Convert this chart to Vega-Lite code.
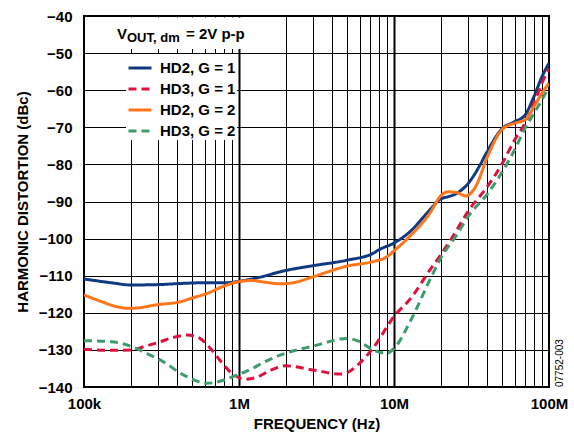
{
  "$schema": "https://vega.github.io/schema/vega-lite/v6.json",
  "width": 465,
  "height": 371,
  "autosize": {"type": "none"},
  "padding": {"left": 84, "top": 16, "right": 25, "bottom": 46},
  "background": "white",
  "config": {
    "font": "Liberation Sans",
    "view": {"stroke": "black", "strokeWidth": 2},
    "legend": {
      "orient": "none",
      "legendX": 42,
      "legendY": 38,
      "fillColor": "white",
      "padding": 1,
      "symbolType": "stroke",
      "symbolStrokeWidth": 3,
      "symbolSize": 529,
      "labelFont": "Liberation Sans",
      "labelFontSize": 15,
      "labelFontWeight": "bold",
      "labelColor": "black",
      "labelOffset": 7,
      "rowPadding": -2,
      "title": null
    }
  },
  "datasets": {
    "curves": [
      {"series": "HD2, G = 1", "freq": 100000, "dbc": -110.9},
      {"series": "HD2, G = 1", "freq": 150000, "dbc": -111.9},
      {"series": "HD2, G = 1", "freq": 200000, "dbc": -112.5},
      {"series": "HD2, G = 1", "freq": 300000, "dbc": -112.4},
      {"series": "HD2, G = 1", "freq": 420000, "dbc": -112.1},
      {"series": "HD2, G = 1", "freq": 600000, "dbc": -111.9},
      {"series": "HD2, G = 1", "freq": 830000, "dbc": -111.9},
      {"series": "HD2, G = 1", "freq": 1000000, "dbc": -111.5},
      {"series": "HD2, G = 1", "freq": 1300000, "dbc": -110.6},
      {"series": "HD2, G = 1", "freq": 2000000, "dbc": -108.6},
      {"series": "HD2, G = 1", "freq": 3000000, "dbc": -107.3},
      {"series": "HD2, G = 1", "freq": 5000000, "dbc": -105.8},
      {"series": "HD2, G = 1", "freq": 7300000, "dbc": -104.0},
      {"series": "HD2, G = 1", "freq": 8000000, "dbc": -103.0},
      {"series": "HD2, G = 1", "freq": 10000000, "dbc": -101.2},
      {"series": "HD2, G = 1", "freq": 12700000, "dbc": -98.1},
      {"series": "HD2, G = 1", "freq": 17000000, "dbc": -92.3},
      {"series": "HD2, G = 1", "freq": 20000000, "dbc": -89.3},
      {"series": "HD2, G = 1", "freq": 22400000, "dbc": -88.7},
      {"series": "HD2, G = 1", "freq": 25400000, "dbc": -87.8},
      {"series": "HD2, G = 1", "freq": 30000000, "dbc": -85.2},
      {"series": "HD2, G = 1", "freq": 35000000, "dbc": -81.0},
      {"series": "HD2, G = 1", "freq": 40000000, "dbc": -76.5},
      {"series": "HD2, G = 1", "freq": 50000000, "dbc": -70.3},
      {"series": "HD2, G = 1", "freq": 60000000, "dbc": -68.5},
      {"series": "HD2, G = 1", "freq": 70000000, "dbc": -66.7},
      {"series": "HD2, G = 1", "freq": 80000000, "dbc": -61.7},
      {"series": "HD2, G = 1", "freq": 90000000, "dbc": -56.4},
      {"series": "HD2, G = 1", "freq": 100000000, "dbc": -52.7},

      {"series": "HD3, G = 1", "freq": 100000, "dbc": -129.8},
      {"series": "HD3, G = 1", "freq": 150000, "dbc": -130.1},
      {"series": "HD3, G = 1", "freq": 200000, "dbc": -130.0},
      {"series": "HD3, G = 1", "freq": 250000, "dbc": -129.0},
      {"series": "HD3, G = 1", "freq": 310000, "dbc": -127.8},
      {"series": "HD3, G = 1", "freq": 380000, "dbc": -126.6},
      {"series": "HD3, G = 1", "freq": 460000, "dbc": -126.0},
      {"series": "HD3, G = 1", "freq": 560000, "dbc": -126.9},
      {"series": "HD3, G = 1", "freq": 650000, "dbc": -129.5},
      {"series": "HD3, G = 1", "freq": 750000, "dbc": -132.7},
      {"series": "HD3, G = 1", "freq": 900000, "dbc": -136.3},
      {"series": "HD3, G = 1", "freq": 1100000, "dbc": -137.9},
      {"series": "HD3, G = 1", "freq": 1300000, "dbc": -137.4},
      {"series": "HD3, G = 1", "freq": 1600000, "dbc": -135.5},
      {"series": "HD3, G = 1", "freq": 2000000, "dbc": -134.3},
      {"series": "HD3, G = 1", "freq": 3000000, "dbc": -135.4},
      {"series": "HD3, G = 1", "freq": 4500000, "dbc": -136.5},
      {"series": "HD3, G = 1", "freq": 5000000, "dbc": -136.1},
      {"series": "HD3, G = 1", "freq": 6000000, "dbc": -133.6},
      {"series": "HD3, G = 1", "freq": 7300000, "dbc": -129.6},
      {"series": "HD3, G = 1", "freq": 10000000, "dbc": -121.0},
      {"series": "HD3, G = 1", "freq": 13000000, "dbc": -115.8},
      {"series": "HD3, G = 1", "freq": 17000000, "dbc": -108.5},
      {"series": "HD3, G = 1", "freq": 20000000, "dbc": -104.4},
      {"series": "HD3, G = 1", "freq": 25400000, "dbc": -97.7},
      {"series": "HD3, G = 1", "freq": 30000000, "dbc": -92.7},
      {"series": "HD3, G = 1", "freq": 40000000, "dbc": -86.0},
      {"series": "HD3, G = 1", "freq": 50000000, "dbc": -79.7},
      {"series": "HD3, G = 1", "freq": 60000000, "dbc": -73.4},
      {"series": "HD3, G = 1", "freq": 70000000, "dbc": -68.9},
      {"series": "HD3, G = 1", "freq": 80000000, "dbc": -63.5},
      {"series": "HD3, G = 1", "freq": 90000000, "dbc": -58.1},
      {"series": "HD3, G = 1", "freq": 100000000, "dbc": -54.1},

      {"series": "HD2, G = 2", "freq": 100000, "dbc": -115.2},
      {"series": "HD2, G = 2", "freq": 130000, "dbc": -117.0},
      {"series": "HD2, G = 2", "freq": 160000, "dbc": -118.3},
      {"series": "HD2, G = 2", "freq": 200000, "dbc": -118.8},
      {"series": "HD2, G = 2", "freq": 300000, "dbc": -117.8},
      {"series": "HD2, G = 2", "freq": 420000, "dbc": -117.0},
      {"series": "HD2, G = 2", "freq": 500000, "dbc": -116.0},
      {"series": "HD2, G = 2", "freq": 620000, "dbc": -114.8},
      {"series": "HD2, G = 2", "freq": 800000, "dbc": -112.8},
      {"series": "HD2, G = 2", "freq": 1000000, "dbc": -111.6},
      {"series": "HD2, G = 2", "freq": 1200000, "dbc": -111.3},
      {"series": "HD2, G = 2", "freq": 1500000, "dbc": -111.8},
      {"series": "HD2, G = 2", "freq": 1850000, "dbc": -112.2},
      {"series": "HD2, G = 2", "freq": 2300000, "dbc": -111.8},
      {"series": "HD2, G = 2", "freq": 3000000, "dbc": -110.3},
      {"series": "HD2, G = 2", "freq": 5000000, "dbc": -107.4},
      {"series": "HD2, G = 2", "freq": 7300000, "dbc": -106.2},
      {"series": "HD2, G = 2", "freq": 9000000, "dbc": -104.9},
      {"series": "HD2, G = 2", "freq": 10000000, "dbc": -103.3},
      {"series": "HD2, G = 2", "freq": 12700000, "dbc": -99.3},
      {"series": "HD2, G = 2", "freq": 17000000, "dbc": -93.2},
      {"series": "HD2, G = 2", "freq": 20000000, "dbc": -88.5},
      {"series": "HD2, G = 2", "freq": 22400000, "dbc": -87.4},
      {"series": "HD2, G = 2", "freq": 25400000, "dbc": -87.6},
      {"series": "HD2, G = 2", "freq": 29000000, "dbc": -88.5},
      {"series": "HD2, G = 2", "freq": 34000000, "dbc": -85.6},
      {"series": "HD2, G = 2", "freq": 40000000, "dbc": -78.0},
      {"series": "HD2, G = 2", "freq": 50000000, "dbc": -70.5},
      {"series": "HD2, G = 2", "freq": 60000000, "dbc": -68.9},
      {"series": "HD2, G = 2", "freq": 70000000, "dbc": -68.0},
      {"series": "HD2, G = 2", "freq": 80000000, "dbc": -64.4},
      {"series": "HD2, G = 2", "freq": 90000000, "dbc": -60.8},
      {"series": "HD2, G = 2", "freq": 100000000, "dbc": -58.1},

      {"series": "HD3, G = 2", "freq": 100000, "dbc": -127.5},
      {"series": "HD3, G = 2", "freq": 150000, "dbc": -127.8},
      {"series": "HD3, G = 2", "freq": 200000, "dbc": -129.0},
      {"series": "HD3, G = 2", "freq": 250000, "dbc": -130.8},
      {"series": "HD3, G = 2", "freq": 310000, "dbc": -132.7},
      {"series": "HD3, G = 2", "freq": 460000, "dbc": -137.2},
      {"series": "HD3, G = 2", "freq": 620000, "dbc": -139.0},
      {"series": "HD3, G = 2", "freq": 830000, "dbc": -137.9},
      {"series": "HD3, G = 2", "freq": 1000000, "dbc": -136.5},
      {"series": "HD3, G = 2", "freq": 1100000, "dbc": -135.9},
      {"series": "HD3, G = 2", "freq": 1500000, "dbc": -133.0},
      {"series": "HD3, G = 2", "freq": 2000000, "dbc": -130.9},
      {"series": "HD3, G = 2", "freq": 3000000, "dbc": -129.0},
      {"series": "HD3, G = 2", "freq": 5000000, "dbc": -126.9},
      {"series": "HD3, G = 2", "freq": 6000000, "dbc": -127.8},
      {"series": "HD3, G = 2", "freq": 7300000, "dbc": -130.0},
      {"series": "HD3, G = 2", "freq": 9000000, "dbc": -130.9},
      {"series": "HD3, G = 2", "freq": 10000000, "dbc": -129.6},
      {"series": "HD3, G = 2", "freq": 12700000, "dbc": -122.4},
      {"series": "HD3, G = 2", "freq": 17000000, "dbc": -111.2},
      {"series": "HD3, G = 2", "freq": 20000000, "dbc": -105.3},
      {"series": "HD3, G = 2", "freq": 25400000, "dbc": -99.0},
      {"series": "HD3, G = 2", "freq": 30000000, "dbc": -94.1},
      {"series": "HD3, G = 2", "freq": 40000000, "dbc": -88.0},
      {"series": "HD3, G = 2", "freq": 50000000, "dbc": -82.0},
      {"series": "HD3, G = 2", "freq": 60000000, "dbc": -76.1},
      {"series": "HD3, G = 2", "freq": 70000000, "dbc": -70.3},
      {"series": "HD3, G = 2", "freq": 80000000, "dbc": -66.2},
      {"series": "HD3, G = 2", "freq": 90000000, "dbc": -62.6},
      {"series": "HD3, G = 2", "freq": 100000000, "dbc": -59.0}
    ]
  },
  "layer": [
    {
      "data": {"name": "curves"},
      "mark": {"type": "line", "strokeWidth": 3, "interpolate": "monotone", "clip": true},
      "encoding": {
        "x": {
          "field": "freq",
          "type": "quantitative",
          "scale": {"type": "log", "domain": [100000, 100000000], "nice": false},
          "axis": {
            "title": "FREQUENCY (Hz)",
            "values": [100000, 200000, 300000, 400000, 500000, 600000, 700000, 800000, 900000, 1000000, 2000000, 3000000, 4000000, 5000000, 6000000, 7000000, 8000000, 9000000, 10000000, 20000000, 30000000, 40000000, 50000000, 60000000, 70000000, 80000000, 90000000, 100000000],
            "tickCount": 40,
            "labelExpr": "datum.value == 100000 ? '100k' : datum.value == 1000000 ? '1M' : datum.value == 10000000 ? '10M' : datum.value == 100000000 ? '100M' : ''",
            "labelFlush": false,
            "labelOverlap": false,
            "ticks": false,
            "domain": false,
            "grid": true,
            "gridColor": "black",
            "gridOpacity": 1,
            "gridWidth": {"condition": {"test": "datum.value == 1000000 || datum.value == 10000000", "value": 2}, "value": 1},
            "labelPadding": 9,
            "labelFont": "Liberation Sans",
            "labelFontSize": 15,
            "labelFontWeight": "bold",
            "labelColor": "black",
            "titleFont": "Liberation Sans",
            "titleFontSize": 15,
            "titleFontWeight": "bold",
            "titleColor": "black",
            "titlePadding": 5
          }
        },
        "y": {
          "field": "dbc",
          "type": "quantitative",
          "scale": {"domain": [-140, -40], "nice": false, "zero": false},
          "axis": {
            "title": "HARMONIC DISTORTION (dBc)",
            "values": [-140, -130, -120, -110, -100, -90, -80, -70, -60, -50, -40],
            "tickCount": 20,
            "labelOverlap": false,
            "ticks": false,
            "domain": false,
            "grid": true,
            "gridColor": "black",
            "gridOpacity": 1,
            "gridWidth": 1,
            "labelPadding": 12,
            "labelFont": "Liberation Sans",
            "labelFontSize": 15,
            "labelFontWeight": "bold",
            "labelColor": "black",
            "titleFont": "Liberation Sans",
            "titleFontSize": 15,
            "titleFontWeight": "bold",
            "titleColor": "black",
            "titlePadding": 8
          }
        },
        "color": {
          "field": "series",
          "type": "nominal",
          "scale": {
            "domain": ["HD2, G = 1", "HD3, G = 1", "HD2, G = 2", "HD3, G = 2"],
            "range": ["#0f3a82", "#e0103c", "#ff7518", "#3c9c6c"]
          },
          "legend": {"title": null}
        },
        "strokeDash": {
          "field": "series",
          "type": "nominal",
          "scale": {
            "domain": ["HD2, G = 1", "HD3, G = 1", "HD2, G = 2", "HD3, G = 2"],
            "range": [[1, 0], [8, 5], [1, 0], [8, 5]]
          },
          "legend": {"title": null}
        }
      }
    },
    {
      "data": {"values": [{}]},
      "mark": {"type": "rect", "fill": "white", "strokeWidth": 0},
      "encoding": {
        "x": {"datum": 102000, "type": "quantitative"},
        "x2": {"datum": 1180000},
        "y": {"datum": -40.4, "type": "quantitative"},
        "y2": {"datum": -48.9}
      }
    },
    {
      "data": {"values": [{}]},
      "mark": {"type": "text", "text": "V", "align": "left", "baseline": "alphabetic", "font": "Liberation Sans", "fontSize": 15, "fontWeight": "bold", "color": "black"},
      "encoding": {
        "x": {"datum": 163300, "type": "quantitative"},
        "y": {"datum": -46.2, "type": "quantitative"}
      }
    },
    {
      "data": {"values": [{}]},
      "mark": {"type": "text", "text": "OUT, dm", "align": "left", "baseline": "alphabetic", "font": "Liberation Sans", "fontSize": 13, "fontWeight": "bold", "color": "black"},
      "encoding": {
        "x": {"datum": 189400, "type": "quantitative"},
        "y": {"datum": -47.0, "type": "quantitative"}
      }
    },
    {
      "data": {"values": [{}]},
      "mark": {"type": "text", "text": "= 2V p-p", "align": "left", "baseline": "alphabetic", "font": "Liberation Sans", "fontSize": 15, "fontWeight": "bold", "color": "black"},
      "encoding": {
        "x": {"datum": 455000, "type": "quantitative"},
        "y": {"datum": -46.2, "type": "quantitative"}
      }
    },
    {
      "data": {"values": [{}]},
      "mark": {"type": "text", "text": "07752-003", "align": "left", "baseline": "middle", "angle": 270, "dy": 11, "font": "Liberation Sans", "fontSize": 10, "color": "black"},
      "encoding": {
        "x": {"datum": 100000000, "type": "quantitative"},
        "y": {"datum": -140, "type": "quantitative"}
      }
    }
  ]
}
